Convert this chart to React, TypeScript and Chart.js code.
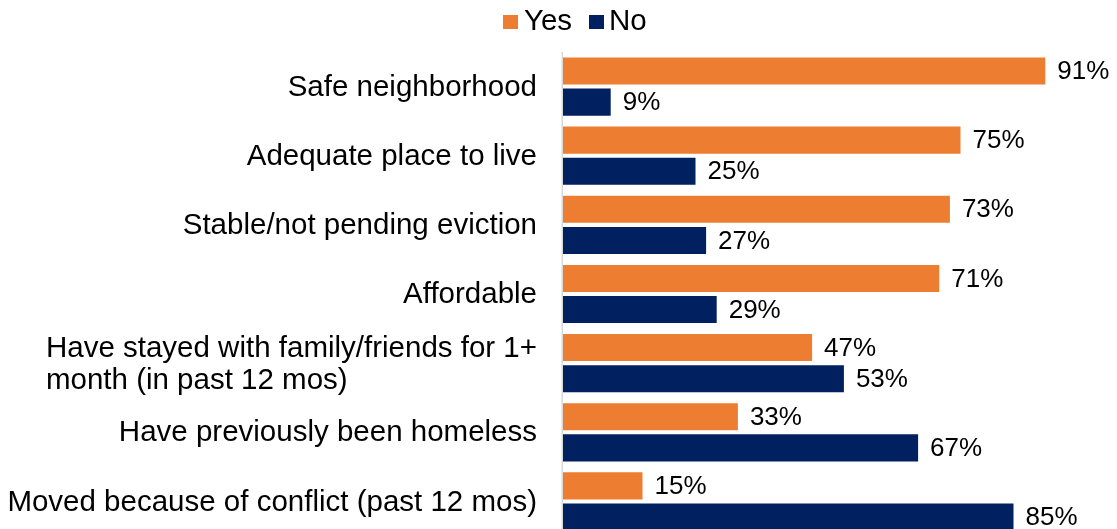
import React, { useEffect, useRef } from "react";
import { Chart, registerables } from "chart.js";

Chart.register(...registerables);

const categories: (string | string[])[] = [
  "Safe neighborhood",
  "Adequate place to live",
  "Stable/not pending eviction",
  "Affordable",
  ["Have stayed with family/friends for 1+", "month (in past 12 mos)"],
  "Have previously been homeless",
  "Moved because of conflict (past 12 mos)",
];
const yesValues = [91, 75, 73, 71, 47, 33, 15];
const noValues = [9, 25, 27, 29, 53, 67, 85];
const seriesNames = ["Yes", "No"];
const seriesColors = ["#ED7D31", "#002060"];

const FONT = '"Liberation Sans", Arial, sans-serif';

const drawPlugin = {
  id: "customDraw",
  afterDatasetsDraw(chart: any) {
    const { ctx, chartArea, scales } = chart;
    const yScale = scales.y;
    ctx.save();
    // axis line
    ctx.strokeStyle = "#d9d9d9";
    ctx.lineWidth = 1.5;
    ctx.beginPath();
    ctx.moveTo(chartArea.left - 0.75, chartArea.top);
    ctx.lineTo(chartArea.left - 0.75, chartArea.bottom + 10);
    ctx.stroke();

    // category labels
    ctx.fillStyle = "#000";
    ctx.font = `29.5px ${FONT}`;
    ctx.textBaseline = "middle";
    ctx.textAlign = "left";
    const rightX = chartArea.left - 26;
    const lineH = 32;
    categories.forEach((lab, i) => {
      const lines = Array.isArray(lab) ? lab : [lab];
      const yc = yScale.getPixelForValue(i);
      const maxW = Math.max(...lines.map((l) => ctx.measureText(l).width));
      const left = rightX - maxW;
      lines.forEach((l, j) => {
        const y = yc + (j - (lines.length - 1) / 2) * lineH + (lines.length > 1 ? 2 : 1);
        ctx.fillText(l, left, y);
      });
    });

    // data labels
    ctx.font = `26px ${FONT}`;
    chart.data.datasets.forEach((ds: any, di: number) => {
      const meta = chart.getDatasetMeta(di);
      meta.data.forEach((el: any, i: number) => {
        ctx.fillText(`${ds.data[i]}%`, el.x + 12, el.y + 1);
      });
    });

    // legend
    ctx.font = `29.5px ${FONT}`;
    const legendItems = [
      { x: 503, tx: 524 },
      { x: 589, tx: 609 },
    ];
    chart.data.datasets.forEach((ds: any, di: number) => {
      const it = legendItems[di];
      ctx.fillStyle = ds.backgroundColor;
      ctx.fillRect(it.x, 15, 15, 14);
      ctx.fillStyle = "#000";
      ctx.fillText(ds.label, it.tx, 21.5);
    });
    ctx.restore();
  },
};

export default function App() {
  const ref = useRef<HTMLCanvasElement>(null);
  useEffect(() => {
    if (!ref.current) return;
    const chart = new Chart(ref.current, {
      type: "bar",
      data: {
        labels: categories.map((c) => (Array.isArray(c) ? c.join(" ") : c)),
        datasets: [
          {
            label: seriesNames[0],
            data: yesValues,
            backgroundColor: seriesColors[0],
            categoryPercentage: 0.9,
            barPercentage: 0.87,
          },
          {
            label: seriesNames[1],
            data: noValues,
            backgroundColor: seriesColors[1],
            categoryPercentage: 0.9,
            barPercentage: 0.87,
          },
        ],
      },
      options: {
        indexAxis: "y",
        responsive: false,
        animation: false,
        devicePixelRatio: 1,
        layout: { padding: { left: 563, right: 24, top: 52, bottom: 4 } },
        scales: {
          x: { display: false, min: 0, max: 100 },
          y: { display: false },
        },
        plugins: {
          legend: { display: false },
          tooltip: { enabled: false },
        },
      },
      plugins: [drawPlugin],
    });
    return () => chart.destroy();
  }, []);
  return (
    <div style={{ position: "fixed", left: 0, top: 0, width: 1117, height: 529, overflow: "hidden", background: "#fff" }}>
      <canvas ref={ref} width={1117} height={540} style={{ display: "block" }} />
    </div>
  );
}
